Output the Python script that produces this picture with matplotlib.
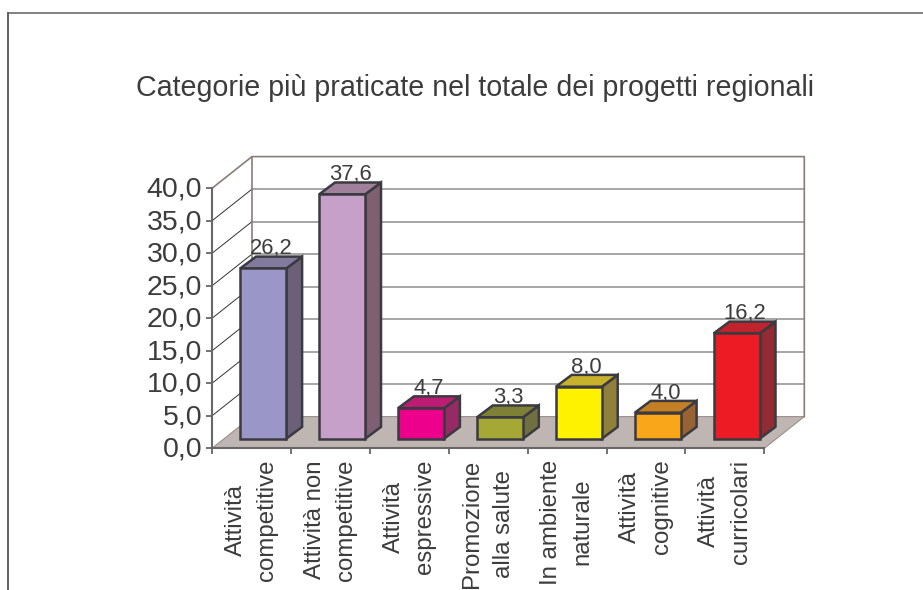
import matplotlib
matplotlib.use("Agg")
import matplotlib.pyplot as plt
from matplotlib.patches import Polygon
from matplotlib.transforms import ScaledTranslation

plt.rcParams['font.family'] = ['Liberation Sans', 'DejaVu Sans']

title = "Categorie più praticate nel totale dei progetti regionali"
categories = ["Attività\ncompetitive", "Attività non\ncompetitive", "Attività\nespressive",
              "Promozione\nalla salute", "In ambiente\nnaturale", "Attività\ncognitive",
              "Attività\ncurricolari"]
values = [26.2, 37.6, 4.7, 3.3, 8.0, 4.0, 16.2]
value_labels = ["26,2", "37,6", "4,7", "3,3", "8,0", "4,0", "16,2"]
y_ticks = [0, 5, 10, 15, 20, 25, 30, 35, 40]
y_tick_labels = ["0,0", "5,0", "10,0", "15,0", "20,0", "25,0", "30,0", "35,0", "40,0"]
front_colors = ["#9b96c8", "#c6a0c9", "#ec008c", "#a6a835", "#fff200", "#faa61a", "#ed1c24"]
top_colors = ["#837a9d", "#a1809c", "#bc1c74", "#7e8036", "#c8b12b", "#c47f25", "#c1232d"]
side_colors = ["#6b6078", "#7f5f72", "#962a64", "#6f6f3f", "#90803a", "#986234", "#922b32"]

W, H = 923, 590
fig = plt.figure(figsize=(W / 100, H / 100), dpi=100, facecolor="white")
# outer frame: only left and top edges fall inside the picture
fig.add_artist(plt.Line2D([8 / W, 8 / W], [-0.02, 1 - 13 / H], transform=fig.transFigure,
                          color="#5f5f5f", linewidth=1.4, solid_joinstyle="miter"))
fig.add_artist(plt.Line2D([8 / W, 1.02], [1 - 13 / H, 1 - 13 / H], transform=fig.transFigure,
                          color="#5f5f5f", linewidth=1.1))

PXX, PXY = 78.9, 6.5      # pixels per category / per value unit
ax = fig.add_axes([212 / W, (H - 448.3) / H, 7 * PXX / W, 40 * PXY / H])
ax.set_xlim(0, 7)
ax.set_ylim(0, 40)
ax.patch.set_visible(False)

DX, DY = 40 / PXX, 31.7 / PXY        # full depth of the floor
FY = 9.6 / PXY                       # height of the bar front above the axis
BX, BY = 15.8 / PXX, 11.8 / PXY      # depth of the bar itself
BAR_LEFT, BAR_W = 28.3 / PXX, 46 / PXX

# floor
ax.add_patch(Polygon([(0, 0), (7, 0), (7 + DX, DY), (DX, DY)], closed=True, facecolor="#bfb5b2",
                     edgecolor="#9a8f8c", linewidth=0.8, clip_on=False, zorder=1))
# walls
for t in y_ticks[1:-1]:
    ax.plot([DX, 7 + DX], [t + DY, t + DY], color="#8e8e8e", lw=1.1, clip_on=False, zorder=1.2)
    ax.plot([0, DX], [t, t + DY], color="#333333", lw=0.7, clip_on=False, zorder=1.2)
wall = "#8a7d78"
ax.plot([0, DX, 7 + DX, 7 + DX], [40, 40 + DY, 40 + DY, DY], color=wall, lw=1.2, clip_on=False, zorder=1.3)
ax.plot([DX, DX], [DY, 40 + DY], color=wall, lw=1.2, clip_on=False, zorder=1.3)

# bars
edge = dict(edgecolor="#3a3a40", linewidth=1.8, joinstyle="miter", clip_on=False, zorder=3)
for i, v in enumerate(values):
    x0 = i + BAR_LEFT
    x1 = x0 + BAR_W
    y0 = FY
    y1 = FY + v
    ax.add_patch(Polygon([(x1, y0), (x1 + BX, y0 + BY), (x1 + BX, y1 + BY), (x1, y1)],
                         closed=True, facecolor=side_colors[i], **edge))
    ax.add_patch(Polygon([(x0, y1), (x1, y1), (x1 + BX, y1 + BY), (x0 + BX, y1 + BY)],
                         closed=True, facecolor=top_colors[i], **edge))
    ax.add_patch(Polygon([(x0, y0), (x1, y0), (x1, y1), (x0, y1)],
                         closed=True, facecolor=front_colors[i], **edge))
    ax.text((x0 + x1 + BX) / 2, y1 + BY + 0.35, value_labels[i], ha="center", va="baseline",
            fontsize=15.8, color="#3c3c3c", zorder=4, clip_on=False)

# axes
for s in ("top", "right"):
    ax.spines[s].set_visible(False)
for s in ("left", "bottom"):
    ax.spines[s].set_color("#6a6666")
    ax.spines[s].set_linewidth(1.5)
    ax.spines[s].set_zorder(2)
ax.set_yticks(y_ticks, y_tick_labels)
ax.tick_params(axis="y", length=4, width=1.3, color="#6a6666", labelsize=20.5, labelcolor="#3c3c3c", pad=3)
shift = ScaledTranslation(0, 1.5 / 100, fig.dpi_scale_trans)
for lab in ax.get_yticklabels():
    lab.set_transform(lab.get_transform() + shift)
ax.set_xticks(range(8), [""] * 8)
ax.tick_params(axis="x", which="major", length=4.5, width=1.3, color="#6a6666")
ax.set_xticks([i + 0.5 for i in range(7)], categories, minor=True)
ax.tick_params(axis="x", which="minor", length=0, pad=8, labelsize=17.3, labelcolor="#3c3c3c")
for lab in ax.get_xticklabels(minor=True):
    lab.set_rotation(90)
    lab.set_multialignment("center")
    lab.set_linespacing(1.55)

fig.text(475 / W, 1 - 87.5 / H, title, ha="center", va="center", fontsize=20.6, color="#3c3c3c")
fig.savefig("out.png", dpi=100)
